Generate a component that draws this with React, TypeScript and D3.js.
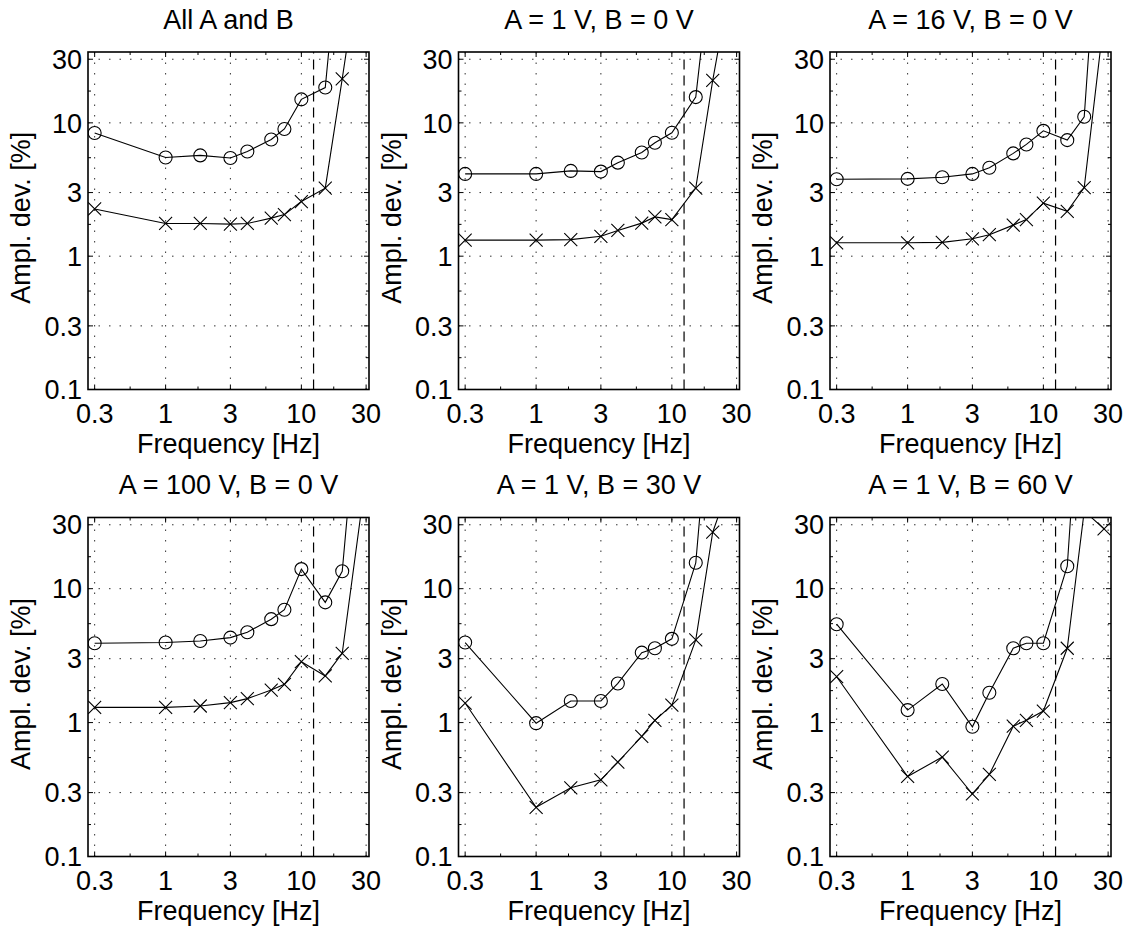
import React from 'react';
import * as d3 from 'd3';

// ---------- data ----------
const freqs = [0.3, 1, 1.8, 3, 4, 6, 7.5, 10, 15, 20, 28];
const xTicks = [0.3, 1, 3, 10, 30];
const yTicks = [0.1, 0.3, 1, 3, 10, 30];
const xTickLabels = ['0.3', '1', '3', '10', '30'];
const yTickLabels = ['0.1', '0.3', '1', '3', '10', '30'];
const cutoffHz = 12.3;

const titles = [
  'All A and B',
  'A = 1 V, B = 0 V',
  'A = 16 V, B = 0 V',
  'A = 100 V, B = 0 V',
  'A = 1 V, B = 30 V',
  'A = 1 V, B = 60 V',
];

const circAll = [8.4, 5.5, 5.7, 5.45, 6.1, 7.5, 9.0, 15.0, 18.4, 390, 2000];
const crossAll = [2.26, 1.76, 1.76, 1.74, 1.76, 1.93, 2.05, 2.57, 3.24, 21.4, 210];

const circA1B0 = [4.14, 4.14, 4.36, 4.31, 5.03, 6.0, 7.09, 8.42, 15.6, 205, 2000];
const crossA1B0 = [1.32, 1.32, 1.33, 1.41, 1.56, 1.77, 1.97, 1.88, 3.24, 20.8, 140];

const circA16B0 = [3.78, 3.8, 3.91, 4.14, 4.61, 5.9, 6.89, 8.71, 7.42, 11.1, 1500];
const crossA16B0 = [1.26, 1.26, 1.27, 1.35, 1.45, 1.71, 1.88, 2.5, 2.17, 3.27, 61];

const circA100B0 = [3.91, 3.96, 4.07, 4.31, 4.73, 5.92, 6.96, 14.0, 7.9, 13.5, 590];
const crossA100B0 = [1.3, 1.3, 1.33, 1.41, 1.51, 1.75, 1.93, 2.85, 2.23, 3.29, 42];

const circA1B30 = [3.96, 0.99, 1.45, 1.45, 1.96, 3.33, 3.59, 4.22, 15.6, 450, 3000];
const crossA1B30 = [1.4, 0.233, 0.326, 0.374, 0.507, 0.79, 1.04, 1.35, 4.15, 26.4, 70];

const circA1B60 = [5.43, 1.24, 1.94, 0.93, 1.67, 3.59, 3.91, 3.91, 14.7, 1100, 3000];
const crossA1B60 = [2.2, 0.396, 0.553, 0.293, 0.41, 0.94, 1.04, 1.22, 3.59, 38, 28];

const circSeries = [circAll, circA1B0, circA16B0, circA100B0, circA1B30, circA1B60];
const crossSeries = [crossAll, crossA1B0, crossA16B0, crossA100B0, crossA1B30, crossA1B60];

// ---------- layout ----------
const W = 1126;
const H = 929;
const colLeft = [88, 458.5, 830];
const panelW = 281;
const rowBox = [
  { top: 52, bottom: 389.5 },
  { top: 517.5, bottom: 856.5 },
];
const FONT = '"Liberation Sans", Arial, Helvetica, sans-serif';
const FS = 27;

const xDomain: [number, number] = [0.268, 31.5];
const yDomain: [number, number] = [0.1, 34];

const minorX = [Math.sqrt(0.3), Math.sqrt(3), Math.sqrt(30), Math.sqrt(300)];
const minorY = [Math.sqrt(0.03), Math.sqrt(0.3), Math.sqrt(3), Math.sqrt(30), Math.sqrt(300)];

function Panel({ idx }: { idx: number }) {
  const col = idx % 3;
  const row = Math.floor(idx / 3);
  const left = colLeft[col];
  const right = left + panelW;
  const { top, bottom } = rowBox[row];
  const x = d3.scaleLog().domain(xDomain).range([left, right]);
  const y = d3.scaleLog().domain(yDomain).range([bottom, top]);
  const line = d3
    .line<number>()
    .x((_, i) => x(freqs[i]))
    .y((d) => y(d));
  const clipId = `clip-${idx}`;
  const circ = circSeries[idx];
  const cross = crossSeries[idx];
  const inside = (v: number) => v <= yDomain[1] && v >= yDomain[0];
  const m = 6.5;
  const cx = (left + right) / 2;
  const cy = (top + bottom) / 2;
  return (
    <g>
      <defs>
        <clipPath id={clipId}>
          <rect x={left} y={top} width={right - left} height={bottom - top} />
        </clipPath>
      </defs>
      {/* grid */}
      {xTicks.map((t) => (
        <line
          key={'gx' + t}
          x1={x(t)}
          x2={x(t)}
          y1={bottom}
          y2={top}
          stroke="#333"
          strokeWidth={1}
          strokeDasharray="1.5,9"
        />
      ))}
      {yTicks.map((t) => (
        <line
          key={'gy' + t}
          x1={left}
          x2={right}
          y1={y(t)}
          y2={y(t)}
          stroke="#333"
          strokeWidth={1}
          strokeDasharray="1.5,9"
        />
      ))}
      {/* ticks */}
      {xTicks.map((t) => (
        <g key={'tx' + t}>
          <line x1={x(t)} x2={x(t)} y1={bottom} y2={bottom - 5} stroke="#000" />
          <line x1={x(t)} x2={x(t)} y1={top} y2={top + 5} stroke="#000" />
        </g>
      ))}
      {yTicks.map((t) => (
        <g key={'ty' + t}>
          <line x1={left} x2={left + 5} y1={y(t)} y2={y(t)} stroke="#000" />
          <line x1={right} x2={right - 5} y1={y(t)} y2={y(t)} stroke="#000" />
        </g>
      ))}
      {minorX.map((t) => (
        <g key={'mx' + t}>
          <line x1={x(t)} x2={x(t)} y1={bottom} y2={bottom - 3} stroke="#000" />
          <line x1={x(t)} x2={x(t)} y1={top} y2={top + 3} stroke="#000" />
        </g>
      ))}
      {minorY.map((t) => (
        <g key={'my' + t}>
          <line x1={left} x2={left + 3} y1={y(t)} y2={y(t)} stroke="#000" />
          <line x1={right} x2={right - 3} y1={y(t)} y2={y(t)} stroke="#000" />
        </g>
      ))}
      {/* cutoff line */}
      <line
        x1={x(cutoffHz)}
        x2={x(cutoffHz)}
        y1={bottom}
        y2={top}
        stroke="#000"
        strokeWidth={1.2}
        strokeDasharray="10,6"
      />
      {/* data */}
      <g clipPath={`url(#${clipId})`}>
        <path d={line(circ) || ''} fill="none" stroke="#000" strokeWidth={1.1} />
        <path d={line(cross) || ''} fill="none" stroke="#000" strokeWidth={1.1} />
        {circ.map((v, i) =>
          inside(v) ? (
            <circle
              key={'c' + i}
              cx={x(freqs[i])}
              cy={y(v)}
              r={m}
              fill="none"
              stroke="#000"
              strokeWidth={1.1}
            />
          ) : null
        )}
        {cross.map((v, i) =>
          inside(v) ? (
            <path
              key={'x' + i}
              d={`M${x(freqs[i]) - m},${y(v) - m}L${x(freqs[i]) + m},${y(v) + m}M${x(freqs[i]) - m},${y(v) + m}L${x(freqs[i]) + m},${y(v) - m}`}
              fill="none"
              stroke="#000"
              strokeWidth={1.1}
            />
          ) : null
        )}
      </g>
      {/* box */}
      <rect
        x={left}
        y={top}
        width={right - left}
        height={bottom - top}
        fill="none"
        stroke="#000"
        strokeWidth={1.6}
      />
      {/* tick labels */}
      {xTicks.map((t, i) => (
        <text
          key={'lx' + t}
          x={x(t)}
          y={bottom + 33.5}
          textAnchor="middle"
          fontFamily={FONT}
          fontSize={FS}
          fill="#000"
        >
          {xTickLabels[i]}
        </text>
      ))}
      {yTicks.map((t, i) => (
        <text
          key={'ly' + t}
          x={left - 6}
          y={y(t)}
          dy="0.36em"
          textAnchor="end"
          fontFamily={FONT}
          fontSize={FS}
          fill="#000"
        >
          {yTickLabels[i]}
        </text>
      ))}
      {/* labels */}
      <text
        x={cx}
        y={top - 23.5}
        textAnchor="middle"
        fontFamily={FONT}
        fontSize={FS}
        fill="#000"
      >
        {titles[idx]}
      </text>
      <text
        x={cx}
        y={bottom + 63.5}
        textAnchor="middle"
        fontFamily={FONT}
        fontSize={FS}
        fill="#000"
      >
        Frequency [Hz]
      </text>
      <text
        transform={`translate(${left - 58},${cy - 3}) rotate(-90)`}
        textAnchor="middle"
        fontFamily={FONT}
        fontSize={FS}
        fill="#000"
      >
        Ampl. dev. [%]
      </text>
    </g>
  );
}

export default function App() {
  return (
    <svg
      width={W}
      height={H}
      style={{ position: 'absolute', left: 0, top: 0, background: '#fff' }}
    >
      <rect x={0} y={0} width={W} height={H} fill="#fff" />
      {[0, 1, 2, 3, 4, 5].map((i) => (
        <Panel key={i} idx={i} />
      ))}
    </svg>
  );
}
